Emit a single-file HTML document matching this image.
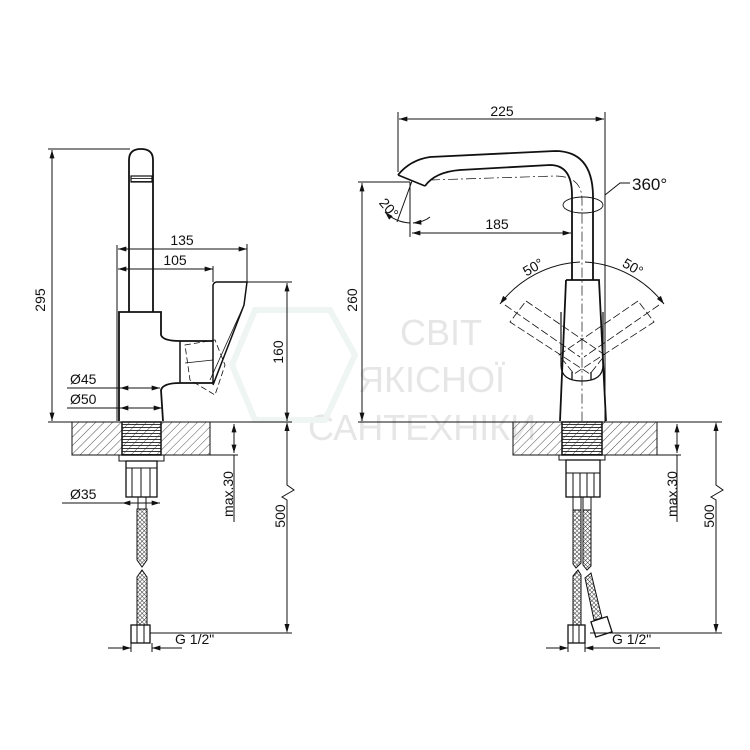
<!DOCTYPE html>
<html><head><meta charset="utf-8"><style>
html,body{margin:0;padding:0;background:#fff}
svg{display:block}
text{font-family:"Liberation Sans",sans-serif;fill:#111}
</style></head><body>
<svg width="750" height="750" viewBox="0 0 750 750" xmlns="http://www.w3.org/2000/svg">
<defs>
<pattern id="h" width="6" height="6" patternUnits="userSpaceOnUse" patternTransform="rotate(45)">
<line x1="0" y1="0" x2="0" y2="6" stroke="#222" stroke-width="0.8"/></pattern>
<pattern id="t" width="4" height="3" patternUnits="userSpaceOnUse">
<line x1="0" y1="1.5" x2="4" y2="1.5" stroke="#222" stroke-width="0.9"/></pattern>
<pattern id="b" width="3" height="3" patternUnits="userSpaceOnUse" patternTransform="rotate(45)">
<rect width="3" height="3" fill="#fff"/><line x1="0" y1="0" x2="0" y2="3" stroke="#333" stroke-width="1"/><line x1="0" y1="0" x2="3" y2="0" stroke="#333" stroke-width="1"/></pattern>
<marker id="a" viewBox="0 0 10 6" refX="10" refY="3" markerWidth="9" markerHeight="5" orient="auto-start-reverse" markerUnits="userSpaceOnUse">
<path d="M0,0 L10,3 L0,6 z" fill="#111"/></marker>
</defs>

<!-- watermark -->
<g font-size="36">
<text x="400" y="345" style="fill:#e6e6e6">СВІТ</text>
<text x="358" y="392" style="fill:#e6e6e6">ЯКІСНОЇ</text>
<text x="308" y="440" style="fill:#e6e6e6">САНТЕХНІКИ</text>
</g>
<path d="M255,310 L330,310 L355,355 L325,420 L255,420 L232,365 Z" fill="none" stroke="#eef5f3" stroke-width="6"/>

<g stroke="#111" fill="none" stroke-width="1">
<!-- ===== LEFT ===== -->
<line x1="48" y1="422" x2="292" y2="422"/>
<line x1="48" y1="149" x2="130" y2="149"/>
<line x1="52" y1="150" x2="52" y2="421" marker-start="url(#a)" marker-end="url(#a)"/>
<path d="M129,312 L129,160 Q129,149 141,149 Q153,149 153,160 L153,312" stroke-width="1.8"/>
<rect x="131" y="176" width="21" height="6" fill="url(#t)" stroke-width="1.2"/>
<path d="M119,421 L119,312 L161,312 L161,335 Q163,341 180,341 L213,341" stroke-width="1.8"/>
<path d="M213,383 L180,383 Q163,383 161,390 L163,421" stroke-width="1.8"/>
<line x1="180" y1="341" x2="180" y2="383" stroke-width="1.5"/>
<path d="M213,383 L213,285 Q214,282 217,282 L247,282 L244,305 L213,385" stroke-width="1.5"/>
<path d="M244,305 L210,380" stroke-width="0.8"/>
<path d="M185,345 L215,340 L225,365 L215,395 L190,380 Z" stroke-dasharray="6,3" stroke-width="0.8"/>
<path d="M185,363 L213,360" stroke-width="0.8"/>
<line x1="117" y1="245" x2="117" y2="421"/>
<line x1="247" y1="244" x2="247" y2="282"/>
<line x1="118" y1="249" x2="247" y2="249" marker-start="url(#a)" marker-end="url(#a)"/>
<line x1="213" y1="266" x2="213" y2="282"/>
<line x1="118" y1="269" x2="213" y2="269" marker-start="url(#a)" marker-end="url(#a)"/>
<line x1="247" y1="282" x2="292" y2="282"/>
<line x1="287" y1="283" x2="287" y2="421" marker-start="url(#a)" marker-end="url(#a)"/>
<line x1="67" y1="388" x2="120" y2="388"/>
<line x1="120" y1="388" x2="160" y2="388" marker-start="url(#a)" marker-end="url(#a)"/>
<line x1="67" y1="408" x2="120" y2="408"/>
<line x1="120" y1="408" x2="162" y2="408" marker-start="url(#a)" marker-end="url(#a)"/>
<rect x="72" y="422" width="138" height="33" fill="url(#h)"/>
<rect x="122" y="422" width="39" height="33" fill="url(#t)" stroke-width="1.5"/>
<rect x="119" y="455" width="45" height="6"/>
<rect x="126" y="461" width="31" height="36" stroke-width="1.3"/>
<line x1="132" y1="468" x2="132" y2="497"/><line x1="141" y1="468" x2="141" y2="497"/><line x1="150" y1="468" x2="150" y2="497"/>
<line x1="126" y1="468" x2="157" y2="468"/>
<rect x="138" y="497" width="8" height="12"/>
<path d="M137,509 L147,509 L147,560 L142,567 L137,560 Z" fill="url(#b)"/>
<path d="M137,577 L142,570 L147,577 L147,625 L137,625 Z" fill="url(#b)"/>
<rect x="131" y="625" width="19" height="18" stroke-width="1.3"/>
<line x1="137" y1="625" x2="137" y2="643"/><line x1="144" y1="625" x2="144" y2="643"/>
<line x1="210" y1="455" x2="238" y2="455"/>
<line x1="234" y1="424" x2="234" y2="453" marker-start="url(#a)" marker-end="url(#a)"/>
<line x1="234" y1="455" x2="234" y2="522"/>
<line x1="150" y1="633" x2="292" y2="633"/>
<path d="M287,424 L287,485 L294,490 L282,497 L287,500 L287,631" />
<line x1="62" y1="503" x2="122" y2="503"/>
<line x1="122" y1="503" x2="160" y2="503" marker-start="url(#a)" marker-end="url(#a)"/>
<line x1="131" y1="643" x2="131" y2="652"/><line x1="152" y1="643" x2="152" y2="652"/>
<line x1="108" y1="648" x2="131" y2="648" marker-end="url(#a)"/>
<line x1="182" y1="648" x2="152" y2="648" marker-end="url(#a)"/>

<!-- ===== RIGHT ===== -->
<line x1="358" y1="422" x2="722" y2="422"/>
<line x1="398" y1="112" x2="398" y2="172"/>
<line x1="605" y1="112" x2="605" y2="422"/>
<line x1="399" y1="119" x2="604" y2="119" marker-start="url(#a)" marker-end="url(#a)"/>
<path d="M398,175 Q410,160 430,157 L555,151 Q592,151 593,195 L593,280" stroke-width="1.8"/>
<path d="M425,186 Q435,172 460,170 L550,165 Q572,165 572,195 L572,280" stroke-width="1.8"/>
<path d="M398,175 L425,186" stroke-width="1.5"/>
<path d="M430,180 L555,176 Q582,176 582,200 L582,421" stroke-dasharray="10,3,2,3" stroke-width="0.7"/>
<ellipse cx="583" cy="205" rx="20" ry="8" stroke-width="0.9"/>
<path d="M605,195 L620,183 L630,183"/>
<path d="M566,280 L599,280 L606,421 M566,280 L560,421" stroke-width="1.8"/>
<path d="M561,312 L561,365 Q561,381 582,381 Q603,381 603,365 L603,312" stroke-width="1.2"/>
<line x1="572" y1="372" x2="572" y2="380" stroke-width="1.3"/><line x1="591" y1="372" x2="591" y2="380" stroke-width="1.3"/>
<g stroke-dasharray="8,3" stroke-width="0.8">
<path d="M526,301 L605,355 L590,374 L510,322 Z"/>
<path d="M638,301 L559,355 L574,374 L654,322 Z"/>
<path d="M505,305 L580,357 M659,305 L584,357"/>
</g>
<line x1="358" y1="182" x2="410" y2="182"/>
<line x1="362" y1="183" x2="362" y2="421" marker-start="url(#a)" marker-end="url(#a)"/>
<line x1="410" y1="182" x2="410" y2="237"/>
<line x1="412" y1="181" x2="397" y2="222"/>
<path d="M385,212 Q395,222 410,223" marker-start="url(#a)"/>
<path d="M430,217 Q424,222 413,223" marker-end="url(#a)"/>
<line x1="412" y1="233" x2="571" y2="233" marker-start="url(#a)" marker-end="url(#a)"/>
<path d="M580,262 A108,108 0 0 0 500,304" marker-end="url(#a)"/>
<path d="M585,262 A108,108 0 0 1 664,304" marker-end="url(#a)"/>
<rect x="513" y="422" width="144" height="33" fill="url(#h)"/>
<rect x="562" y="422" width="40" height="33" fill="url(#t)" stroke-width="1.5"/>
<rect x="559" y="455" width="46" height="5"/>
<rect x="566" y="460" width="34" height="37" stroke-width="1.3"/>
<line x1="566" y1="473" x2="600" y2="473"/>
<line x1="573" y1="473" x2="573" y2="497"/><line x1="580" y1="473" x2="580" y2="497"/><line x1="587" y1="473" x2="587" y2="497"/><line x1="594" y1="473" x2="594" y2="497"/>
<rect x="573" y="497" width="8" height="13"/><rect x="583" y="497" width="8" height="13"/>
<path d="M573,510 L581,510 L581,563 L576,568 L573,564 Z" fill="url(#b)"/>
<path d="M583,510 L591,510 L591,566 L587,570 L583,565 Z" fill="url(#b)"/>
<path d="M573,576 L578,570 L581,575 L581,625 L573,625 Z" fill="url(#b)"/>
<path d="M585,578 L591,573 L602,618 L594,620 Z" fill="url(#b)"/>
<rect x="568" y="625" width="17" height="18" stroke-width="1.3"/>
<line x1="573" y1="625" x2="573" y2="643"/><line x1="579" y1="625" x2="579" y2="643"/>
<g transform="rotate(-18 601 627)"><rect x="593" y="619" width="17" height="16" stroke-width="1.3"/></g>
<line x1="657" y1="455" x2="681" y2="455"/>
<line x1="677" y1="424" x2="677" y2="453" marker-start="url(#a)" marker-end="url(#a)"/>
<line x1="677" y1="455" x2="677" y2="522"/>
<line x1="590" y1="633" x2="722" y2="633"/>
<path d="M716,424 L716,485 L723,490 L711,497 L716,500 L716,631"/>
<line x1="568" y1="643" x2="568" y2="652"/><line x1="585" y1="643" x2="585" y2="652"/>
<line x1="546" y1="648" x2="568" y2="648" marker-end="url(#a)"/>
<line x1="660" y1="648" x2="585" y2="648" marker-end="url(#a)"/>
</g>
<g fill="#111">
<path d="M287,422 L284.5,431 L289.5,431 Z"/><path d="M287,633 L284.5,624 L289.5,624 Z"/>
<path d="M716,422 L713.5,431 L718.5,431 Z"/><path d="M716,633 L713.5,624 L718.5,624 Z"/>
</g>

<g font-size="14">
<text x="40" y="300" text-anchor="middle" transform="rotate(-90 40 300)" dy="5">295</text>
<text x="182" y="245" text-anchor="middle">135</text>
<text x="175" y="265" text-anchor="middle">105</text>
<text x="278" y="352" text-anchor="middle" transform="rotate(-90 278 352)" dy="5">160</text>
<text x="70" y="384">Ø45</text>
<text x="70" y="404">Ø50</text>
<text x="70" y="499">Ø35</text>
<text x="228" y="494" text-anchor="middle" transform="rotate(-90 228 494)" dy="5">max.30</text>
<text x="280" y="516" text-anchor="middle" transform="rotate(-90 280 516)" dy="5">500</text>
<text x="175" y="644">G 1/2"</text>
<text x="502" y="116" text-anchor="middle">225</text>
<text x="352" y="300" text-anchor="middle" transform="rotate(-90 352 300)" dy="5">260</text>
<text x="497" y="229" text-anchor="middle">185</text>
<text x="389" y="208" text-anchor="middle" transform="rotate(50 389 208)" dy="5">20°</text>
<text x="533" y="267" text-anchor="middle" transform="rotate(-30 533 267)" dy="5">50°</text>
<text x="633" y="267" text-anchor="middle" transform="rotate(30 633 267)" dy="5">50°</text>
<text x="672" y="494" text-anchor="middle" transform="rotate(-90 672 494)" dy="5">max.30</text>
<text x="709" y="516" text-anchor="middle" transform="rotate(-90 709 516)" dy="5">500</text>
<text x="612" y="644">G 1/2"</text>
<text x="632" y="190" font-size="17">360°</text>
</g>
</svg>
</body></html>
